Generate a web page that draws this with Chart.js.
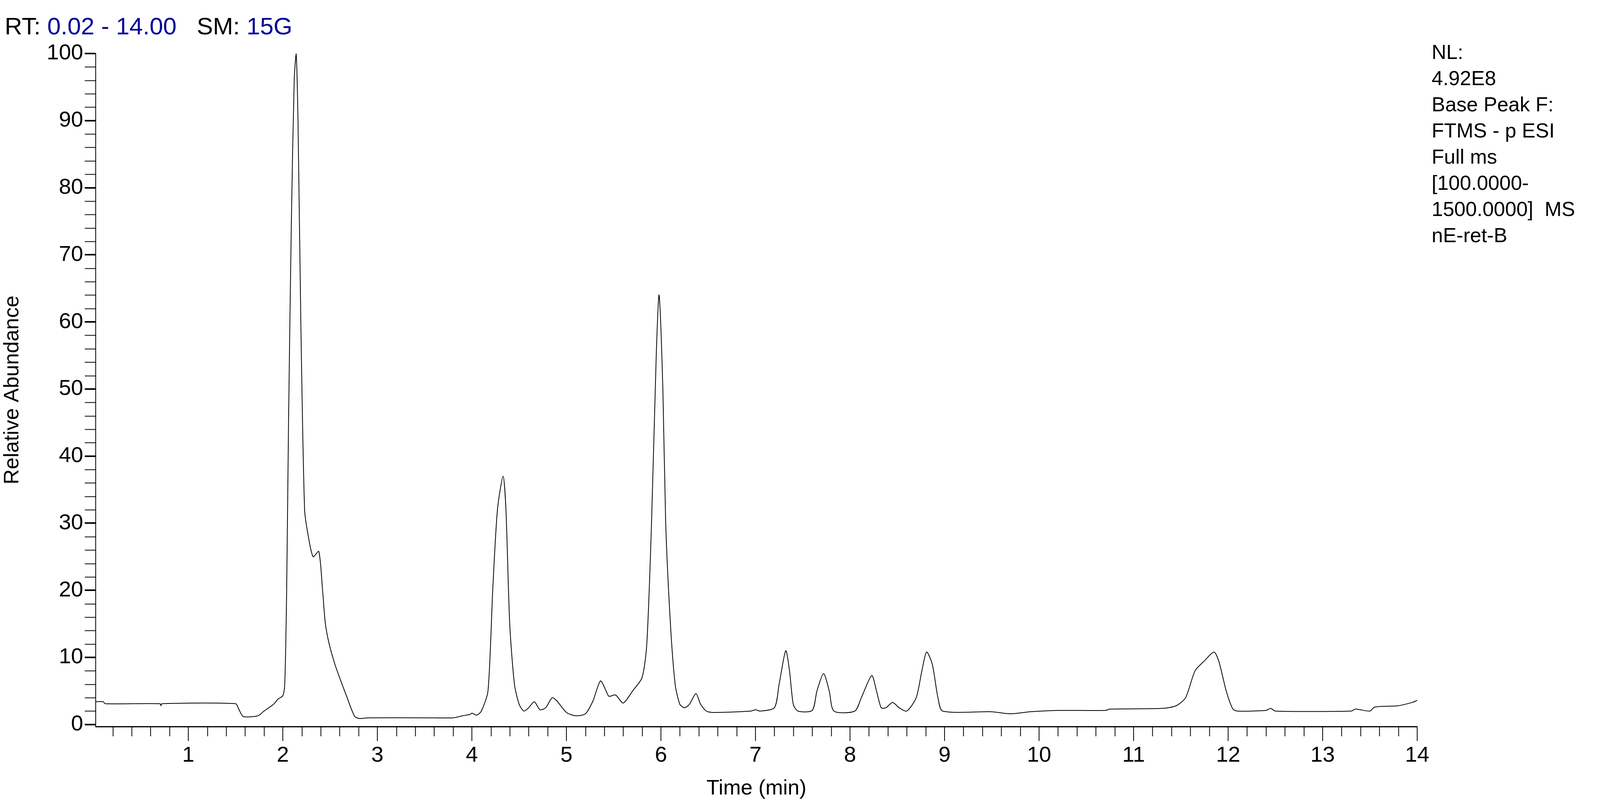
<!DOCTYPE html>
<html>
<head>
<meta charset="utf-8">
<script src="https://cdn.jsdelivr.net/npm/chart.js@4"></script>
<style>
  html, body { margin: 0; padding: 0; background: #fff; }
  #wrap { position: relative; width: 4113px; height: 2066px; }
  canvas { position: absolute; left: 0; top: 0; }
  .hdr { position: absolute; left: 12px; top: 36px; font-family: 'Liberation Sans', Arial, sans-serif; font-size: 62px; color: #000; white-space: pre; line-height: 1; }
  .hdr .v { color: #000099; }
  .nl { position: absolute; left: 3665px; top: 100px; font-family: 'Liberation Sans', Arial, sans-serif; font-size: 52px; line-height: 67px; color: #000; white-space: pre; }
</style>
</head>
<body>
<div id="wrap">
  <canvas id="chart" width="4113" height="2066"></canvas>
  <div class="hdr">RT: <span class="v">0.02 - 14.00</span>   SM: <span class="v">15G</span></div>
  <div class="nl">NL:
4.92E8
Base Peak F:
FTMS - p ESI
Full ms
[100.0000-
1500.0000]  MS
nE-ret-B</div>
</div>
<script>
// retention time (min) and relative abundance (%)
var times = [0.02, 0.1, 0.12, 0.7, 0.71, 0.72, 1.5, 1.53, 1.58, 1.7, 1.75, 1.8, 1.9, 1.95, 2.0, 2.02, 2.04, 2.06, 2.09, 2.12, 2.14, 2.16, 2.19, 2.23, 2.27, 2.32, 2.38, 2.42, 2.45, 2.49, 2.55, 2.6, 2.68, 2.76, 2.81, 2.9, 3.5, 3.8, 3.9, 3.98, 4.0, 4.05, 4.1, 4.17, 4.22, 4.27, 4.33, 4.36, 4.4, 4.45, 4.5, 4.55, 4.6, 4.66, 4.72, 4.78, 4.85, 4.9, 5.0, 5.1, 5.2, 5.28, 5.36, 5.42, 5.45, 5.52, 5.6, 5.7, 5.8, 5.85, 5.9, 5.95, 5.98, 6.02, 6.05, 6.1, 6.15, 6.2, 6.25, 6.3, 6.37, 6.42, 6.48, 6.55, 6.95, 7.0, 7.05, 7.2, 7.25, 7.32, 7.36, 7.4, 7.45, 7.6, 7.65, 7.72, 7.78, 7.83, 8.05, 8.12, 8.23, 8.28, 8.33, 8.38, 8.45, 8.52, 8.6, 8.7, 8.76, 8.81, 8.87, 8.93, 8.98, 9.5, 9.7, 9.9, 10.2, 10.7, 10.75, 11.3, 11.45, 11.55, 11.65, 11.75, 11.85, 11.9, 11.98, 12.05, 12.1, 12.4, 12.45, 12.5, 13.3, 13.35, 13.5, 13.55, 13.8, 13.95, 14.0];
var abundance = [3.4, 3.4, 3.1, 3.1, 2.8, 3.1, 3.1, 2.4, 1.2, 1.2, 1.4, 2.0, 3.0, 3.8, 4.3, 6.0, 20, 45, 75, 96, 100, 90, 60, 32, 28, 25, 25.8, 20, 15, 12, 9, 7, 4, 1.2, 0.9, 1.0, 1.0, 1.0, 1.3, 1.5, 1.7, 1.4, 2.0, 5.0, 20, 32, 37, 32, 15, 6, 3, 2, 2.5, 3.4, 2.2, 2.5, 4.0, 3.5, 1.8, 1.3, 1.6, 3.5, 6.5, 5, 4.2, 4.4, 3.2, 5, 7, 12, 30, 55, 64, 50, 30, 15, 6, 3, 2.5, 3, 4.6, 3, 2, 1.8, 2.0, 2.2, 2.0, 2.5, 6, 11, 8, 3, 2, 2.1, 5, 7.6, 5, 2, 2, 4, 7.3, 5, 2.5, 2.5, 3.3, 2.5, 2, 4, 8, 10.8, 9, 4, 2, 1.9, 1.6, 1.9, 2.1, 2.1, 2.3, 2.4, 2.8, 4, 8, 9.5, 10.8, 9.5, 5, 2.3, 2, 2.1, 2.4, 2, 2.0, 2.3, 2.0, 2.6, 2.8, 3.3, 3.6];
var xMajor = [1, 2, 3, 4, 5, 6, 7, 8, 9, 10, 11, 12, 13, 14];
var yMajor = [0, 10, 20, 30, 40, 50, 60, 70, 80, 90, 100];

var points = times.map((t, i) => ({x: t, y: abundance[i]}));
var sans = "'Liberation Sans', Arial, sans-serif";

// short ticks every 0.2 min and every 2 %, drawn from the chart's scales
var minorTicks = {
  id: 'minorTicks',
  afterDraw(chart) {
    var ctx = chart.ctx, xs = chart.scales.x, ys = chart.scales.y;
    ctx.save();
    ctx.strokeStyle = '#000';
    ctx.lineWidth = 2;
    ctx.beginPath();
    for (var i = 1; i < 70; i++) {
      if (i % 5 == 0) continue;
      var px = Math.round(xs.getPixelForValue(i * 0.2)) + 0.5;
      ctx.moveTo(px, xs.top);
      ctx.lineTo(px, xs.top + 25);
    }
    for (var j = 1; j < 50; j++) {
      if (j % 5 == 0) continue;
      var py = Math.round(ys.getPixelForValue(j * 2)) + 0.5;
      ctx.moveTo(ys.right, py);
      ctx.lineTo(ys.right - 28, py);
    }
    ctx.stroke();
    ctx.restore();
  }
};

new Chart(document.getElementById('chart').getContext('2d'), {
  type: 'line',
  data: {
    datasets: [{
      data: points,
      borderColor: '#000',
      borderWidth: 2,
      pointRadius: 0,
      tension: 0.25,
      fill: false
    }]
  },
  options: {
    responsive: false,
    animation: false,
    layout: { padding: { top: 137, right: 485, left: 0, bottom: 0 } },
    plugins: { legend: { display: false }, tooltip: { enabled: false } },
    scales: {
      x: {
        type: 'linear',
        min: 0.02,
        max: 14,
        afterBuildTicks: (s) => { s.ticks = xMajor.map(v => ({value: v})); },
        afterFit: (s) => { s.height = 206; },
        grid: { drawOnChartArea: false, color: '#000', lineWidth: 2, tickLength: 37 },
        border: { color: '#000', width: 3 },
        ticks: { color: '#000', font: { family: sans, size: 56 }, padding: 4, maxRotation: 0 },
        title: { display: true, text: 'Time (min)', color: '#000', font: { family: sans, size: 54 }, padding: { top: 0, bottom: 14 } }
      },
      y: {
        min: -0.3,
        max: 100,
        afterBuildTicks: (s) => { s.ticks = yMajor.map(v => ({value: v})); },
        afterFit: (s) => { s.width = 245; },
        grid: { drawOnChartArea: false, color: '#000', lineWidth: 4, tickLength: 28 },
        border: { color: '#000', width: 2 },
        ticks: { color: '#000', font: { family: sans, size: 56 }, padding: 4 },
        title: { display: true, text: 'Relative Abundance', color: '#000', font: { family: sans, size: 54 }, padding: { top: 0, bottom: 0 } }
      }
    }
  },
  plugins: [minorTicks]
});
</script>
</body>
</html>
